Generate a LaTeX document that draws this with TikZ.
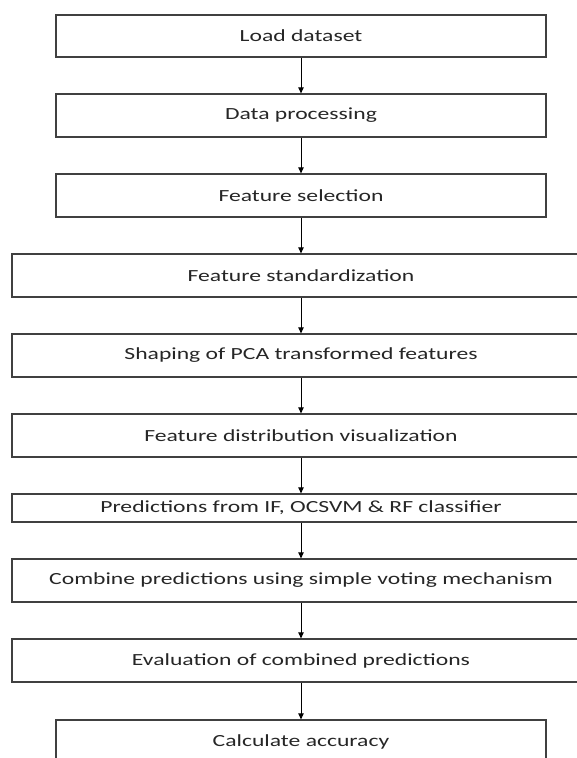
\documentclass[tikz,border=0pt]{standalone}
\usepackage{fontspec}
\setmainfont{Carlito}
\usetikzlibrary{arrows.meta}
\begin{document}
\begin{tikzpicture}[x=1pt,y=-1pt,
  flowbox/.style={draw=black!75, line width=1.3pt, rectangle, inner sep=0pt, align=center,
    text=black!85, font=\fontsize{17}{20}\selectfont},
  narrowbox/.style={flowbox, minimum width=490pt, minimum height=42pt},
  widebox/.style={flowbox, minimum width=578pt, minimum height=43pt},
  flowarrow/.style={draw=black, line width=1pt, -{Triangle[length=6pt,width=5.5pt]}}]
\clip (0,0) rectangle (577,758);
\fill[white] (0,0) rectangle (577,758);
\newcommand{\stretchtext}[1]{\scalebox{1.39}[1]{#1}}
\node[narrowbox] (b1) at (301,36) {\stretchtext{Load dataset}};
\node[narrowbox, minimum height=43pt] (b2) at (301,115.5) {\stretchtext{Data processing}};
\node[narrowbox, minimum height=43pt] (b3) at (301,195.5) {\stretchtext{Feature selection}};
\node[widebox] (b4) at (301,275.5) {\stretchtext{Feature standardization}};
\node[widebox] (b5) at (301,355.5) {\stretchtext{Shaping of PCA transformed features}};
\node[widebox] (b6) at (301,435.5) {\stretchtext{Feature distribution visualization}};
\node[widebox, minimum height=28pt] (b7) at (301,508) {\stretchtext{Predictions from IF, OCSVM \& RF classifier}};
\node[widebox] (b8) at (301,580.5) {\stretchtext{Combine predictions using simple voting mechanism}};
\node[widebox] (b9) at (301,660.5) {\stretchtext{Evaluation of combined predictions}};
\node[narrowbox, minimum height=43pt] (b10) at (301,741.5) {\stretchtext{Calculate accuracy}};
\foreach \a/\b in {b1/b2,b2/b3,b3/b4,b4/b5,b5/b6,b6/b7,b7/b8,b8/b9,b9/b10}
  \draw[flowarrow] (\a.south) -- (\b.north);
\end{tikzpicture}
\end{document}
